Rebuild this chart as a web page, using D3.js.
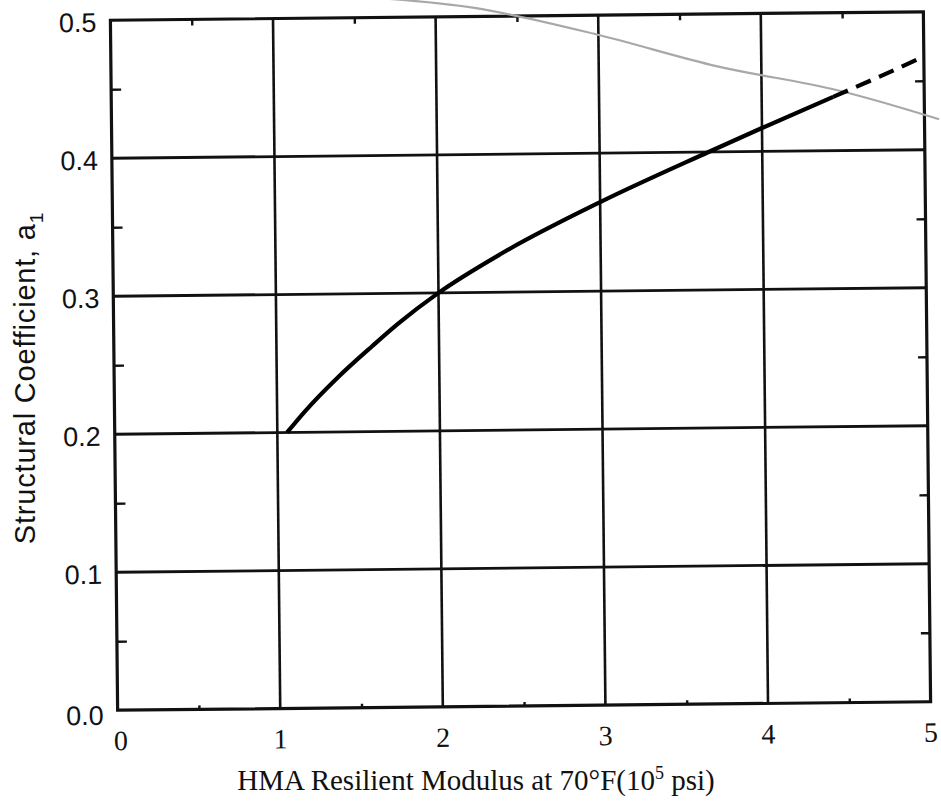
<!DOCTYPE html>
<html>
<head>
<meta charset="utf-8">
<script src="https://cdn.jsdelivr.net/npm/d3@7"></script>
<style>
  body { margin: 0; background: #fff; }
  svg { display: block; }
</style>
</head>
<body>
<div class="chart"></div>
<script>
// values
const modulusSolid = [1.06, 1.17, 1.38, 1.59, 1.75, 2.0, 2.39, 3.0, 3.67, 4.0, 4.44];
const coefSolid    = [0.200, 0.215, 0.240, 0.262, 0.278, 0.300, 0.328, 0.3645, 0.400, 0.417, 0.439];
const modulusDash  = [4.44, 4.7, 4.97];
const coefDash     = [0.439, 0.452, 0.466];
// faint pencil stroke across the scan
const pencilX = [1.605, 2.25, 2.99, 3.73, 4.46, 5.09];
const pencilY = [0.5145, 0.506, 0.486, 0.462, 0.444, 0.422];

const xTicks = [0, 1, 2, 3, 4, 5];
const yTicks = [0.0, 0.1, 0.2, 0.3, 0.4, 0.5];
const xMinor = [0.5, 1.5, 2.5, 3.5, 4.5];
const yMinor = [0.05, 0.15, 0.25, 0.35, 0.45];

const W = 941, H = 805;
const box = {left: 114, right: 927, top: 16, bottom: 706};

const svg = d3.select('.chart').append('svg')
    .attr('width', W)
    .attr('height', H);

// scan is slightly tilted
const g = svg.append('g')
    .attr('transform', 'rotate(-0.6,' + ((box.left + box.right) / 2) + ',' + ((box.top + box.bottom) / 2) + ')');

const x = d3.scaleLinear().domain([0, 5]).range([box.left, box.right]);
const y = d3.scaleLinear().domain([0, 0.5]).range([box.bottom, box.top]);

// grid
g.selectAll('.vgrid')
    .data(xTicks.slice(1, -1))
    .enter().append('line')
    .attr('x1', d => x(d)).attr('x2', d => x(d))
    .attr('y1', box.top).attr('y2', box.bottom)
    .attr('stroke', '#111').attr('stroke-width', 2.6);

g.selectAll('.hgrid')
    .data(yTicks.slice(1, -1))
    .enter().append('line')
    .attr('x1', box.left).attr('x2', box.right)
    .attr('y1', d => y(d)).attr('y2', d => y(d))
    .attr('stroke', '#111').attr('stroke-width', 2.8);

// minor ticks, pointing inward
const yAxisL = d3.axisRight(y).tickValues(yMinor).tickSize(10).tickFormat('');
const yAxisR = d3.axisLeft(y).tickValues(yMinor).tickSize(9).tickFormat('');
const xAxisT = d3.axisBottom(x).tickValues(xMinor).tickSize(6).tickFormat('');
const xAxisB = d3.axisTop(x).tickValues(xMinor).tickSize(4).tickFormat('');

g.append('g').attr('transform', 'translate(' + box.left + ',0)').call(yAxisL);
g.append('g').attr('transform', 'translate(' + box.right + ',0)').call(yAxisR);
g.append('g').attr('transform', 'translate(0,' + box.top + ')').call(xAxisT);
g.append('g').attr('transform', 'translate(0,' + box.bottom + ')').call(xAxisB);
g.selectAll('.domain').remove();
g.selectAll('.tick line').attr('stroke', '#111').attr('stroke-width', 2.4);

// frame
g.append('rect')
    .attr('x', box.left).attr('y', box.top)
    .attr('width', box.right - box.left).attr('height', box.bottom - box.top)
    .attr('fill', 'none')
    .attr('stroke', '#111').attr('stroke-width', 3.2);

// tick labels
g.selectAll('.ylab')
    .data(yTicks)
    .enter().append('text')
    .attr('x', box.left - 14)
    .attr('y', d => y(d) + (d === 0 ? 5 : 2))
    .attr('dy', '0.35em')
    .attr('text-anchor', 'end')
    .attr('font-family', 'Liberation Sans, Arial, sans-serif')
    .attr('font-size', 27)
    .attr('fill', '#111')
    .text(d => d.toFixed(1));

g.selectAll('.xlab')
    .data(xTicks)
    .enter().append('text')
    .attr('x', d => x(d) + (d === 0 ? 3 : 0))
    .attr('y', box.bottom + 40)
    .attr('text-anchor', 'middle')
    .attr('font-family', 'Liberation Serif, Times New Roman, serif')
    .attr('font-size', 28)
    .attr('fill', '#111')
    .text(d => d);

// pencil stroke
const pencil = d3.line().x(d => x(d[0])).y(d => y(d[1])).curve(d3.curveCatmullRom);
g.append('path')
    .datum(pencilX.map((d, i) => [d, pencilY[i]]))
    .attr('d', pencil)
    .attr('fill', 'none')
    .attr('stroke', '#a8a8a8')
    .attr('stroke-width', 2.2);

// curve
const line = d3.line().x(d => x(d[0])).y(d => y(d[1])).curve(d3.curveMonotoneX);
g.append('path')
    .datum(modulusSolid.map((d, i) => [d, coefSolid[i]]))
    .attr('d', line)
    .attr('fill', 'none')
    .attr('stroke', '#000')
    .attr('stroke-width', 4.2);

g.append('path')
    .datum(modulusDash.map((d, i) => [d, coefDash[i]]))
    .attr('d', line)
    .attr('fill', 'none')
    .attr('stroke', '#000')
    .attr('stroke-width', 4.2)
    .attr('stroke-dasharray', '16,9');

// axis titles
svg.append('text')
    .attr('transform', 'translate(35,378) rotate(-90)')
    .attr('text-anchor', 'middle')
    .attr('font-family', 'Liberation Sans, Arial, sans-serif')
    .attr('font-size', 29)
    .attr('letter-spacing', 0.8)
    .attr('fill', '#111')
    .text('Structural Coefficient, a')
    .append('tspan')
    .attr('font-size', 19)
    .attr('dy', 8)
    .text('1');

const xt = svg.append('text')
    .attr('x', 476)
    .attr('y', 790)
    .attr('text-anchor', 'middle')
    .attr('font-family', 'Liberation Serif, Times New Roman, serif')
    .attr('font-size', 29)
    .attr('fill', '#111')
    .text('HMA Resilient Modulus at 70°F(10');
xt.append('tspan').attr('font-size', 18).attr('dy', -11).text('5');
xt.append('tspan').attr('dy', 11).text(' psi)');
</script>
</body>
</html>
